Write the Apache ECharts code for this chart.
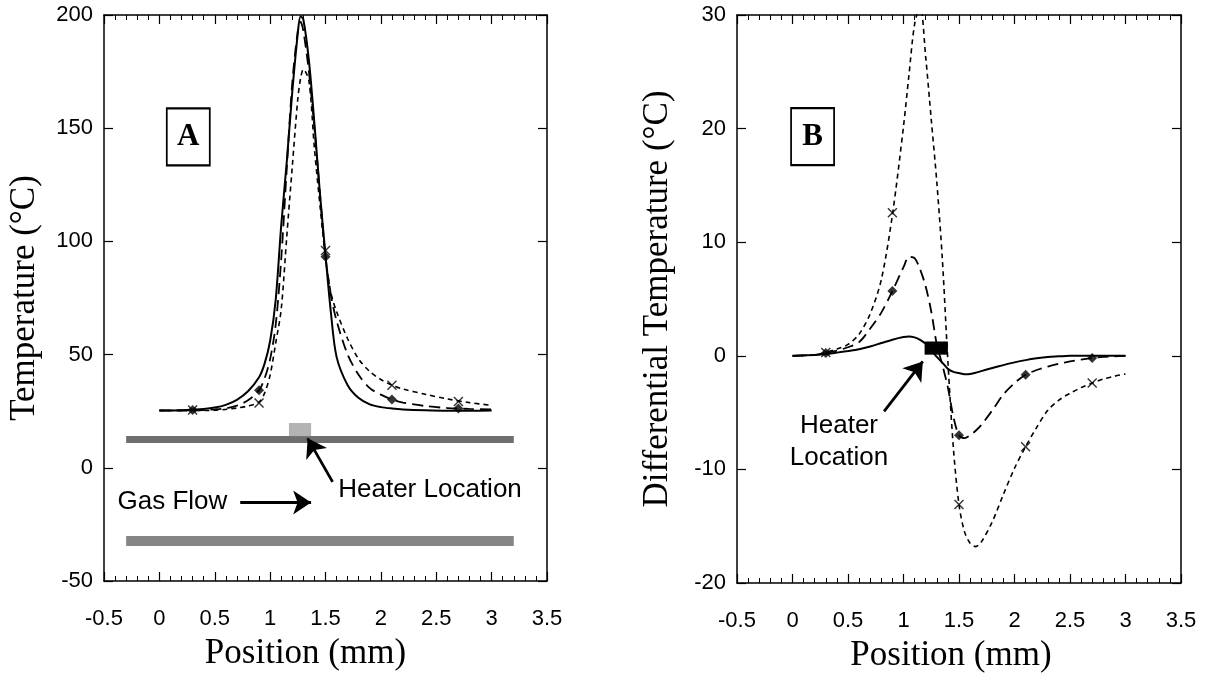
<!DOCTYPE html>
<html>
<head>
<meta charset="utf-8">
<script src="https://cdn.jsdelivr.net/npm/echarts@6/dist/echarts.min.js"></script>
<style>
    html, body { margin: 0; padding: 0; background: #fff; }
    #chart { width: 1206px; height: 674px; }
</style>
</head>
<body>
<div id="chart"></div>
<script>
// panel A : temperature along the channel
const posA = [0, 0.2, 0.4, 0.5, 0.6, 0.7, 0.8, 0.9, 0.95, 1.0, 1.05, 1.1, 1.15, 1.2, 1.25, 1.275, 1.3,
    1.35, 1.4, 1.45, 1.5, 1.55, 1.6, 1.7, 1.8, 1.9, 2.0, 2.1, 2.2, 2.4, 2.6, 2.8, 3.0]
const solidA = [25.3, 25.4, 26.0, 26.6, 27.8, 30.0, 33.8, 40.0, 46, 56, 74, 107, 135, 166, 192, 199.5, 198,
    180, 152, 121, 94, 68, 49, 36.5, 30.8, 28, 26.8, 26.2, 25.8, 25.4, 25.2, 25.2, 25.3]
const longDashA = [25.3, 25.3, 25.5, 25.8, 26.3, 27.5, 29.8, 34.3, 39.5, 48, 63, 92, 132, 170, 193, 197, 193,
    175, 150, 121, 93, 76, 65, 50, 41, 35.2, 32.3, 30.2, 28.8, 27.3, 26.4, 26.0, 25.8]
const shortDashA = [25.3, 25.3, 25.3, 25.4, 25.8, 26.4, 27.3, 29.0, 33, 41, 55, 70, 102, 133, 163, 172, 176,
    171, 141, 116, 93, 77, 69, 57, 48, 42.5, 39, 36.5, 34.8, 32.5, 30.4, 28.8, 27.6]

// panel B : differential temperature
const posB = [0, 0.2, 0.3, 0.4, 0.5, 0.6, 0.7, 0.8, 0.9, 1.0, 1.05, 1.1, 1.15, 1.2, 1.25, 1.3, 1.35, 1.4,
    1.45, 1.5, 1.55, 1.6, 1.65, 1.7, 1.8, 1.9, 2.0, 2.1, 2.2, 2.3, 2.4, 2.5, 2.6, 2.7, 2.8, 2.9, 3.0]
const solidB = [0, 0.08, 0.15, 0.28, 0.42, 0.58, 0.82, 1.12, 1.42, 1.65, 1.7, 1.62, 1.4, 1.05, 0.5, -0.1, -0.6, -1.15,
    -1.42, -1.52, -1.62, -1.6, -1.5, -1.35, -1.08, -0.82, -0.58, -0.38, -0.22, -0.1, -0.05, 0, 0, 0, 0, 0, 0]
const longDashB = [0, 0.08, 0.25, 0.45, 0.75, 1.2, 2.4, 3.8, 5.7, 7.8, 8.7, 8.6, 7.6, 6.1, 3.9, 1.0, -0.8, -2.8,
    -5.4, -7.0, -7.25, -7.0, -6.6, -6.1, -4.8, -3.4, -2.4, -1.67, -1.25, -0.95, -0.7, -0.5, -0.33, -0.2, -0.1, -0.05, 0]
const shortDashB = [0, 0.08, 0.3, 0.6, 1.0, 1.9, 3.7, 6.7, 12.4, 20.2, 24.8, 29.2, 30.8, 26.3, 20.8, 15.3, 8.5, -0.5,
    -8.2, -13.1, -15.5, -16.5, -16.8, -16.4, -14.6, -12.2, -9.9, -8.0, -6.3, -4.8, -3.9, -3.3, -2.8, -2.4, -2.05, -1.8, -1.6]

// symbols on the dashed curves
const markPos = [0.3, 0.9, 1.5, 2.1, 2.7]
const diamondA = [25.5, 34.3, 93.2, 30.2, 26.2]
const crossA = [25.5, 28.6, 96, 36.5, 29.3]
const diamondB = [0.25, 5.7, -7.0, -1.67, -0.2]
const crossB = [0.3, 12.6, -13.1, -8.0, -2.4]

// sketch of the channel in panel A, and the heater in both panels  [x1, y1, x2, y2]
const wallsA = [[-0.3, 11.0, 3.2, 14.0], [-0.3, -34.5, 3.2, -30.1]]
const heaterA = [1.17, 14.0, 1.37, 19.8]
const heaterB = [1.19, 0.1, 1.40, 1.26]

// arrows [fromX, fromY, toX, toY]
const gasArrowA = [0.73, -15.3, 1.37, -15.3]
const heaterArrowA = [1.564, -6.2, 1.339, 13.0]
const heaterArrowB = [0.825, -4.9, 1.174, -0.5]

const zip = (xs, ys) => xs.map((x, i) => [x, ys[i]])

const sans = 'Liberation Sans'
const serif = 'Liberation Serif'
const crossPath = 'path://M0,1L1,0L5,4L9,0L10,1L6,5L10,9L9,10L5,6L1,10L0,9L4,5Z'

function xAxes(g, nameShift) {
    let common = {
        type: 'value', gridIndex: g, min: -0.5, max: 3.5, interval: 0.5,
        axisLine: {onZero: false, lineStyle: {color: '#000', width: 1.5}},
        axisTick: {inside: true, length: 9, lineStyle: {color: '#000', width: 1.2}},
        minorTick: {show: true, splitNumber: 5, length: 5, lineStyle: {color: '#000', width: 1}},
        splitLine: {show: false}
    }
    return [
        Object.assign({}, common, {
            position: 'bottom',
            axisLabel: {color: '#000', fontFamily: sans, fontSize: 22, margin: 27},
            name: 'Position (mm)', nameLocation: 'middle', nameGap: 55,
            nameTextStyle: {color: '#000', fontFamily: serif, fontSize: 35, padding: [0, nameShift, 0, 0]}
        }),
        Object.assign({}, common, {position: 'top', axisLabel: {show: false}})
    ]
}

function yAxes(g, min, max, step, name) {
    let common = {
        type: 'value', gridIndex: g, min: min, max: max, interval: step,
        axisLine: {show: true, onZero: false, lineStyle: {color: '#000', width: 1.5}},
        axisTick: {show: true, inside: true, length: 9, lineStyle: {color: '#000', width: 1.2}},
        splitLine: {show: false}
    }
    return [
        Object.assign({}, common, {
            position: 'left',
            axisLabel: {color: '#000', fontFamily: sans, fontSize: 22, margin: 11},
            name: name, nameLocation: 'middle', nameGap: 62, nameRotate: 90,
            nameTextStyle: {color: '#000', fontFamily: serif, fontSize: 35}
        }),
        Object.assign({}, common, {position: 'right', axisLabel: {show: false}})
    ]
}

function curve(xs, ys, g, dash, width) {
    return {
        type: 'line', xAxisIndex: g * 2, yAxisIndex: g * 2, data: zip(xs, ys),
        symbol: 'none', smooth: 0.3, z: 3,
        lineStyle: {color: '#000', width: width, type: dash}
    }
}

function markers(ys, g, symbol, size) {
    return {
        type: 'scatter', xAxisIndex: g * 2, yAxisIndex: g * 2, data: zip(markPos, ys),
        symbol: symbol, symbolSize: size, z: 4,
        itemStyle: {color: '#000'}
    }
}

function area(r, color) {
    return [{coord: [r[0], r[1]], itemStyle: {color: color, opacity: 1}}, {coord: [r[2], r[3]]}]
}

function arrow(a) {
    return [{coord: [a[0], a[1]]}, {coord: [a[2], a[3]]}]
}

function note(x, y, text, align, size) {
    return {
        coord: [x, y], symbol: 'rect', symbolSize: 1, itemStyle: {color: 'rgba(0,0,0,0)'},
        label: {
            show: true, position: 'inside', formatter: text, align: align, verticalAlign: 'middle',
            color: '#000', fontFamily: sans, fontSize: size, lineHeight: 32
        }
    }
}

function panelBox(x, y, text) {
    return {
        coord: [x, y], symbol: 'rect', symbolSize: [43, 57],
        itemStyle: {color: '#fff', borderColor: '#000', borderWidth: 2},
        label: {
            show: true, position: 'inside', formatter: text,
            color: '#000', fontFamily: serif, fontWeight: 'bold', fontSize: 31
        }
    }
}

function decorations(g, areas, arrows, notes) {
    return {
        type: 'scatter', xAxisIndex: g * 2, yAxisIndex: g * 2, data: [], silent: true,
        markArea: {silent: true, z: 1, label: {show: false}, data: areas},
        markLine: {
            silent: true, symbol: ['none', 'arrow'], symbolSize: 18, label: {show: false},
            lineStyle: {color: '#000', width: 2.8, type: 'solid'}, data: arrows
        },
        markPoint: {silent: true, data: notes}
    }
}

let chart = echarts.init(document.getElementById('chart'), null, {renderer: 'canvas'})
chart.setOption({
    animation: false,
    backgroundColor: '#fff',
    grid: [
        {left: 104, top: 15, width: 443, height: 566, outerBoundsMode: 'none'},
        {left: 737, top: 15, width: 444, height: 568, outerBoundsMode: 'none'}
    ],
    xAxis: xAxes(0, 40).concat(xAxes(1, 16)),
    yAxis: yAxes(0, -50, 200, 50, 'Temperature (°C)')
        .concat(yAxes(1, -20, 30, 10, 'Differential Temperature (°C)')),
    series: [
        decorations(0,
            [area(wallsA[0], '#6e6e6e'), area(wallsA[1], '#858585'), area(heaterA, '#b3b3b3')],
            [arrow(gasArrowA), arrow(heaterArrowA)],
            [note(-0.378, -15, 'Gas Flow', 'left', 26), note(1.615, -9.8, 'Heater Location', 'left', 26),
                panelBox(0.261, 146.2, 'A')]),
        curve(posA, solidA, 0, 'solid', 2),
        curve(posA, longDashA, 0, [11, 6], 1.8),
        curve(posA, shortDashA, 0, [5, 4], 1.6),
        markers(diamondA, 0, 'diamond', 10),
        markers(crossA, 0, crossPath, 10),

        decorations(1,
            [area(heaterB, '#000')],
            [arrow(heaterArrowB)],
            [note(0.419, -7.6, 'Heater\nLocation', 'center', 26), panelBox(0.181, 19.3, 'B')]),
        curve(posB, solidB, 1, 'solid', 2),
        curve(posB, longDashB, 1, [11, 6], 1.8),
        curve(posB, shortDashB, 1, [5, 4], 1.6),
        markers(diamondB, 1, 'diamond', 10),
        markers(crossB, 1, crossPath, 10)
    ]
})
</script>
</body>
</html>
